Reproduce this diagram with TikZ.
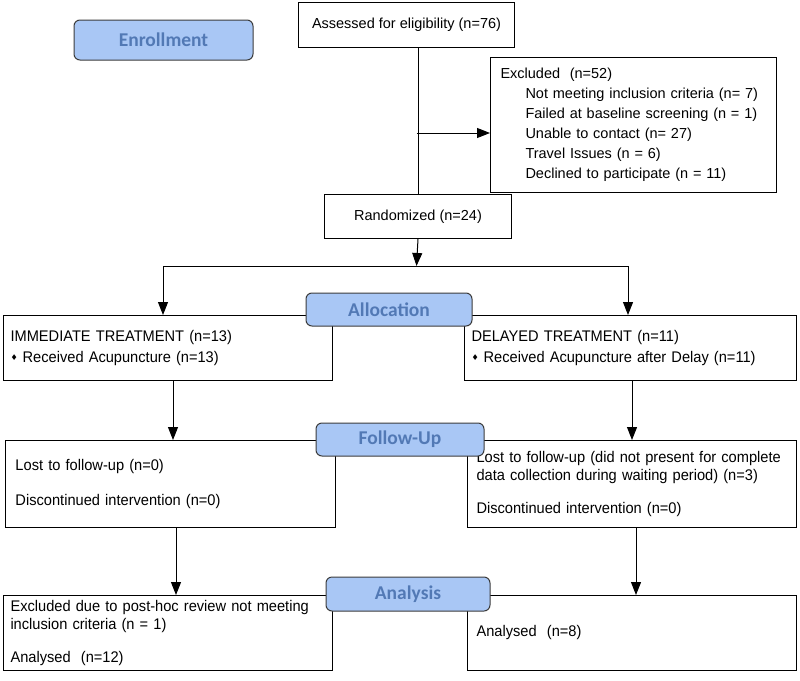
\documentclass[tikz,border=0pt]{standalone}
\usepackage{fontspec}
\setmainfont{Liberation Sans}
\newfontfamily\narf[FakeStretch=0.95]{Liberation Sans}
\newfontfamily\calf{Carlito}
\newfontfamily\symf{DejaVu Sans}
\usetikzlibrary{arrows.meta}
\definecolor{labfill}{HTML}{A9C7F5}
\definecolor{labtext}{HTML}{5279B5}
\definecolor{labdraw}{HTML}{3C3C3C}
\newcommand{\dmd}{{\symf\fontsize{8}{8}\selectfont\raisebox{1.5pt}{♦}}\hspace{5pt}}
\begin{document}
\begin{tikzpicture}[x=1pt,y=-1pt,
  box/.style={draw=black,line width=1pt,rectangle,inner ysep=0pt,anchor=north west},
  topf/.style={font=\fontsize{14.5}{20}\selectfont},
  lowf/.style={font=\narf\fontsize{15.4}{18.4}\selectfont},
  lab/.style={draw=labdraw,fill=labfill,line width=1pt,rounded corners=6pt,
    text=labtext,font=\calf\bfseries\fontsize{19.5}{22}\selectfont,inner sep=0pt},
  arr/.style={line width=1pt,-{Triangle[length=13pt,width=10pt]}},
  ln/.style={line width=1pt}]
\useasboundingbox (0,0) rectangle (800,680);
\fill[white] (0,0) rectangle (800,680);
% boxes
\node[box,topf,minimum width=216pt,minimum height=45pt,align=center] (assess) at (298,2) {Assessed for eligibility (n=76)};
\node[box,topf,minimum height=135pt,text width=266pt,inner xsep=10pt,align=left] (excl) at (490,57)
 {Excluded\ \ (n=52)\\
  \hspace*{25pt}Not meeting inclusion criteria (n=\ 7)\\
  \hspace*{25pt}Failed at baseline screening (n = 1)\\
  \hspace*{25pt}Unable to contact (n= 27)\\
  \hspace*{25pt}Travel Issues (n = 6)\\
  \hspace*{25pt}Declined to participate (n = 11)};
\node[box,topf,minimum width=187pt,minimum height=44pt,align=center] (rand) at (324,194) {Randomized (n=24)};
\node[box,lowf,minimum height=65pt,text width=315pt,inner xsep=7pt,align=left] (imm) at (3,315)
 {IMMEDIATE TREATMENT (n=13)\\[2pt]\dmd Received Acupuncture (n=13)};
\node[box,lowf,minimum height=65pt,text width=318pt,inner xsep=7pt,align=left] (del) at (464,315)
 {DELAYED TREATMENT (n=11)\\[2pt]\dmd Received Acupuncture after Delay (n=11)};
\node[box,lowf,minimum height=87pt,text width=310pt,inner xsep=10pt,align=left] (lostL) at (5,440)
 {Lost to follow-up (n=0)\\[16pt]Discontinued intervention (n=0)};
\node[box,lowf,minimum height=87pt,text width=311pt,inner xsep=9pt,align=left] (lostR) at (467,440)
 {Lost to follow-up (did not present for complete\\data collection during waiting period) (n=3)\\[14pt]Discontinued intervention (n=0)};
\node[box,lowf,minimum height=75pt,text width=315pt,inner xsep=7pt,align=left] (anaL) at (3,595)
 {Excluded due to post-hoc review not meeting\\inclusion criteria (n = 1)\\[14pt]Analysed\ \ (n=12)};
\node[box,lowf,minimum height=75pt,text width=311pt,inner xsep=9pt,align=left] (anaR) at (467,595)
 {Analysed\ \ (n=8)};
% connectors
\coordinate (j1) at (416.5,133);
\coordinate (split) at (416.5,266);
\coordinate (sL) at (163,266);
\coordinate (sR) at (628,266);
\draw[ln] (assess.south -| rand.north) -- (rand.north);
\draw[arr] (j1) -- (j1 -| excl.west);
\draw[arr] (rand.south) -- (split);
\draw[ln] (sL) -- (sR);
\draw[arr] (sL) -- (sL |- imm.north);
\draw[arr] (sR) -- (sR |- del.north);
\coordinate (iL) at (173,380);
\coordinate (iR) at (632,380);
\draw[arr] (iL) -- (iL |- lostL.north);
\draw[arr] (iR) -- (iR |- lostR.north);
\coordinate (lL) at (176,527);
\coordinate (lR) at (636,527);
\draw[arr] (lL) -- (lL |- anaL.north);
\draw[arr] (lR) -- (lR |- anaR.north);
% stage labels
\node[lab,minimum width=179pt,minimum height=40pt] (enroll) at (163.5,40) {Enrollment};
\node[lab,minimum width=166pt,minimum height=33pt] (alloc) at (389,309.5) {Allocation};
\node[lab,minimum width=168pt,minimum height=33pt] (follow) at (400,439.5) {Follow-Up};
\node[lab,minimum width=164pt,minimum height=34pt] (analysis) at (408,594) {Analysis};
\end{tikzpicture}
\end{document}
